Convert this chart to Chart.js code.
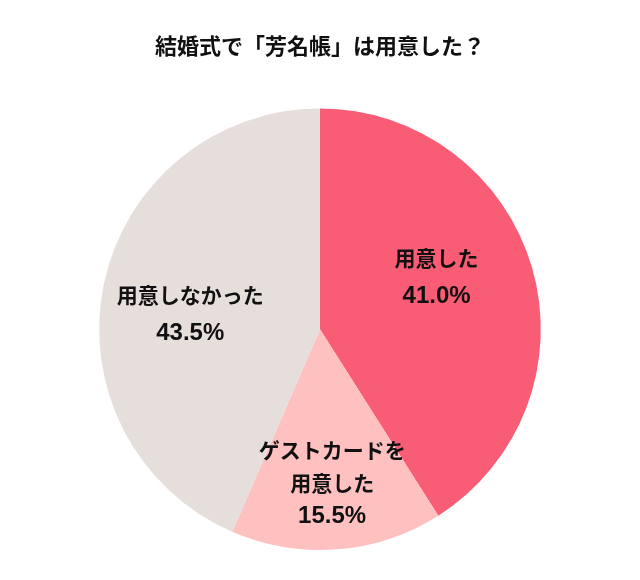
<!DOCTYPE html>
<html><head><meta charset="utf-8">
<script src="https://cdn.jsdelivr.net/npm/chart.js@4"></script>
<style>body{margin:0;background:#fff}#wrap{width:640px;height:580px}</style>
</head><body><div id="wrap"><canvas id="c"></canvas></div>
<script>
const labels = ['用意した', 'ゲストカードを\n用意した', '用意しなかった'];
const values = [41.0, 15.5, 43.5];
const colors = ['#F95C75', '#FFC0C0', '#E6DEDB'];
const labelRadius = [0.55, 0.7, 0.6];
const labelShiftY = [-18, 0, 12];

const sliceLabels = {
  id: 'sliceLabels',
  afterDatasetsDraw(chart) {
    const ctx = chart.ctx;
    const meta = chart.getDatasetMeta(0);
    ctx.save();
    ctx.fillStyle = '#111';
    ctx.textAlign = 'center';
    ctx.textBaseline = 'middle';
    meta.data.forEach((arc, i) => {
      const mid = (arc.startAngle + arc.endAngle) / 2;
      const r = arc.outerRadius * labelRadius[i];
      const x = arc.x + Math.cos(mid) * r;
      const y = arc.y + Math.sin(mid) * r + labelShiftY[i];
      const lines = labels[i].split('\n');
      const all = lines.map(t => ({ t, font: 'bold 21px "Noto Sans CJK JP", sans-serif' }))
        .concat([{ t: values[i].toFixed(1) + '%', font: 'bold 24px "Liberation Sans", Arial, sans-serif' }]);
      const lh = lines.length > 1 ? 33 : 38;
      let yy = y - (all.length - 1) * lh / 2;
      all.forEach(l => {
        ctx.font = l.font;
        ctx.fillText(l.t, x, yy);
        yy += lh;
      });
    });
    ctx.restore();
  }
};

new Chart(document.getElementById('c'), {
  type: 'pie',
  data: { labels, datasets: [{ data: values, backgroundColor: colors, borderWidth: 0 }] },
  options: {
    responsive: true, maintainAspectRatio: false, animation: false,
    layout: { padding: { bottom: 30 } },
    plugins: {
      legend: { display: false }, tooltip: { enabled: false },
      title: { display: true, text: '結婚式で「芳名帳」は用意した？', color: '#111',
        font: { size: 22, weight: 'bold', family: '"Noto Sans CJK JP", sans-serif' },
        padding: { top: 32, bottom: 50 } }
    }
  },
  plugins: [sliceLabels]
});
</script></body></html>
